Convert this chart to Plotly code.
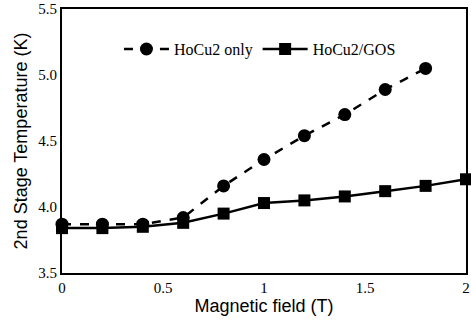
import plotly.graph_objects as go

field = [0, 0.2, 0.4, 0.6, 0.8, 1.0, 1.2, 1.4, 1.6, 1.8, 2.0]
hocu2_only = [3.87, 3.87, 3.87, 3.92, 4.16, 4.36, 4.54, 4.70, 4.89, 5.05]
hocu2_gos = [3.84, 3.84, 3.85, 3.88, 3.95, 4.03, 4.05, 4.08, 4.12, 4.16, 4.21]

fig = go.Figure()
fig.add_trace(go.Scatter(
    x=field[:len(hocu2_only)], y=hocu2_only, name="HoCu2 only",
    mode="lines+markers",
    line=dict(color="black", width=2.5, dash="dash"),
    marker=dict(symbol="circle", size=13, color="black"),
    cliponaxis=False,
))
fig.add_trace(go.Scatter(
    x=field, y=hocu2_gos, name="HoCu2/GOS",
    mode="lines+markers",
    line=dict(color="black", width=2.5),
    marker=dict(symbol="square", size=12, color="black"),
    cliponaxis=False,
))

fig.update_layout(
    width=471, height=323,
    margin=dict(l=62, r=5, t=9, b=50),
    paper_bgcolor="white", plot_bgcolor="white",
    showlegend=True,
    legend=dict(orientation="h", x=0.49, xanchor="center", y=0.848, yanchor="middle",
                font=dict(family="Liberation Serif", size=16, color="black"),
                bgcolor="rgba(0,0,0,0)", itemwidth=45),
    xaxis=dict(range=[0, 2], tickvals=[0, 0.5, 1, 1.5, 2], ticktext=["0", "0.5", "1", "1.5", "2"],
               showgrid=False, zeroline=False, showline=True, linecolor="black", linewidth=2,
               mirror=True, ticks="", automargin=False, ticklabeloverflow="allow",
               tickfont=dict(family="Liberation Serif", size=15, color="black"),
               title=dict(text="Magnetic field (T)", font=dict(family="Liberation Sans", size=18, color="black"), standoff=3)),
    yaxis=dict(range=[3.5, 5.5], tickvals=[3.5, 4.0, 4.5, 5.0, 5.5], ticktext=["3.5", "4.0", "4.5", "5.0", "5.5"],
               showgrid=False, zeroline=False, showline=True, linecolor="black", linewidth=2,
               mirror=True, ticks="", automargin=False, ticklabeloverflow="allow",
               tickfont=dict(family="Liberation Serif", size=15, color="black"),
               title=dict(text="2nd Stage Temperature (K)", font=dict(family="Liberation Sans", size=18, color="black"), standoff=6)),
)

# remove the page's default 8px body margin so the figure fills the window
fig.write_html("out.html", config={"displayModeBar": False},
               post_script="document.body.style.margin='0';")
